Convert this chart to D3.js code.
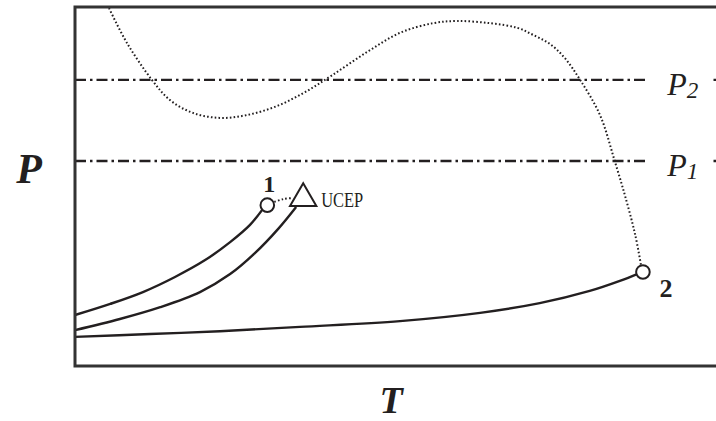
<!DOCTYPE html>
<html>
<head>
<meta charset="utf-8">
<script src="https://cdn.jsdelivr.net/npm/d3@7"></script>
<style>
  body { margin: 0; background: #fff; }
  svg { display: block; }
</style>
</head>
<body>
<svg id="chart" width="716" height="421"></svg>
<script>
// Curves, T and P on a 0-100 scale
var liquidA = [
  [0, 14.2], [5.5, 17.3], [10.6, 20.6], [15.6, 24.8], [20.3, 29.5],
  [24.2, 34.5], [27.3, 39.3], [29.2, 43.5]
];
var liquidB = [
  [0, 10.0], [7.0, 13.1], [13.3, 16.4], [19.5, 20.6], [24.2, 25.6],
  [28.1, 31.5], [31.7, 38.2], [34.5, 44.3]
];
var liquidC = [
  [0, 8.1], [11.7, 8.9], [22.6, 9.7], [35.1, 10.9], [50.7, 12.5],
  [63.2, 14.8], [72.5, 17.5], [80.3, 20.9], [85.0, 23.7], [87.7, 25.6]
];
var bridge = [[31.1, 45.7], [32.5, 46.5], [34.0, 46.8]];
var critLine = [
  [5.3, 99.7], [8.1, 90.0], [12.0, 79.7], [14.8, 74.1], [18.4, 70.5],
  [22.6, 69.1], [26.8, 69.9], [31.5, 72.4], [35.9, 76.3], [40.2, 81.1],
  [45.6, 87.5], [50.7, 92.8], [55.9, 95.5], [59.6, 96.1], [64.7, 95.5],
  [69.0, 94.2], [71.5, 92.2], [74.1, 89.7], [76.4, 85.8], [78.8, 79.7],
  [81.9, 69.9], [84.2, 57.1], [86.0, 46.2], [87.4, 36.5], [88.3, 28.1]
];
var point1 = [30.0, 44.8];
var point2 = [88.6, 26.2];
var ucep = [35.6, 46.7];
var isobars = [{name: "2", p: 79.7}, {name: "1", p: 57.1}];

var svg = d3.select("#chart"),
  margin = {top: 7, right: 0, bottom: 55, left: 75},
  width = svg.attr("width") - margin.left - margin.right,
  height = svg.attr("height") - margin.top - margin.bottom;

var x = d3.scaleLinear().domain([0, 100]).range([margin.left, margin.left + width]);
var y = d3.scaleLinear().domain([0, 100]).range([margin.top + height, margin.top]);

var ink = "#231f20";
var serif = "'Liberation Serif', 'Times New Roman', serif";

var line = d3.line()
  .x(function(d) { return x(d[0]); })
  .y(function(d) { return y(d[1]); })
  .curve(d3.curveCatmullRom.alpha(0.5));

// isobars, full width; labels get a white patch on top
isobars.forEach(function(b) {
  svg.append("line")
    .attr("x1", x(0)).attr("x2", x(100))
    .attr("y1", y(b.p)).attr("y2", y(b.p))
    .attr("stroke", ink)
    .attr("stroke-width", 2.4)
    .attr("stroke-dasharray", "11,4,2.5,4");
});

// the big dotted critical line
[critLine, bridge].forEach(function(c) {
  svg.append("path")
    .datum(c)
    .attr("d", line)
    .attr("fill", "none")
    .attr("stroke", ink)
    .attr("stroke-width", 2)
    .attr("stroke-dasharray", "1.6,2.2");
});

[liquidA, liquidB, liquidC].forEach(function(c) {
  svg.append("path")
    .datum(c)
    .attr("d", line)
    .attr("fill", "none")
    .attr("stroke", ink)
    .attr("stroke-width", 2.4);
});

// end points
[point1, point2].forEach(function(p) {
  svg.append("circle")
    .attr("cx", x(p[0])).attr("cy", y(p[1]))
    .attr("r", 6.8)
    .attr("fill", "#fff")
    .attr("stroke", ink)
    .attr("stroke-width", 2);
});

svg.append("path")
  .attr("d", d3.symbol().type(d3.symbolTriangle).size(300)())
  .attr("transform", "translate(" + x(ucep[0]) + "," + y(ucep[1]) + ")")
  .attr("fill", "#fff")
  .attr("stroke", ink)
  .attr("stroke-width", 2);

// frame: left, top, bottom
svg.append("path")
  .attr("d", "M" + x(100) + "," + y(100) + "H" + x(0) + "V" + y(0) + "H" + x(100))
  .attr("fill", "none")
  .attr("stroke", "#333")
  .attr("stroke-width", 3);

// isobar labels
isobars.forEach(function(b) {
  svg.append("rect")
    .attr("x", x(89.5)).attr("y", y(b.p) - 4)
    .attr("width", x(99.4) - x(89.5)).attr("height", 8)
    .attr("fill", "#fff");
  var t = svg.append("text")
    .attr("x", x(92.4)).attr("y", y(b.p) + 15)
    .attr("font-family", serif)
    .attr("font-style", "italic")
    .attr("font-size", 32)
    .attr("fill", ink)
    .text("P");
  t.append("tspan")
    .attr("dy", 3)
    .attr("font-size", 23)
    .text(b.name);
});

svg.append("text")
  .attr("x", x(point1[0]) + 2).attr("y", y(point1[1]) - 13)
  .attr("text-anchor", "middle")
  .attr("font-family", serif).attr("font-weight", "bold")
  .attr("font-size", 24).attr("fill", ink)
  .text("1");

svg.append("text")
  .attr("x", x(point2[0]) + 23).attr("y", y(point2[1]) + 25)
  .attr("text-anchor", "middle")
  .attr("font-family", serif).attr("font-weight", "bold")
  .attr("font-size", 26).attr("fill", ink)
  .text("2");

svg.append("text")
  .attr("x", x(ucep[0]) + 18).attr("y", y(ucep[1]) + 9)
  .attr("font-family", serif)
  .attr("font-size", 21).attr("fill", ink)
  .attr("textLength", 42).attr("lengthAdjust", "spacingAndGlyphs")
  .text("UCEP");

// axis titles
svg.append("text")
  .attr("x", 29).attr("y", 183)
  .attr("text-anchor", "middle")
  .attr("font-family", serif).attr("font-weight", "bold").attr("font-style", "italic")
  .attr("font-size", 42).attr("fill", ink)
  .text("P");

svg.append("text")
  .attr("x", 391).attr("y", 413)
  .attr("text-anchor", "middle")
  .attr("font-family", serif).attr("font-weight", "bold").attr("font-style", "italic")
  .attr("font-size", 38).attr("fill", ink)
  .text("T");
</script>
</body>
</html>
